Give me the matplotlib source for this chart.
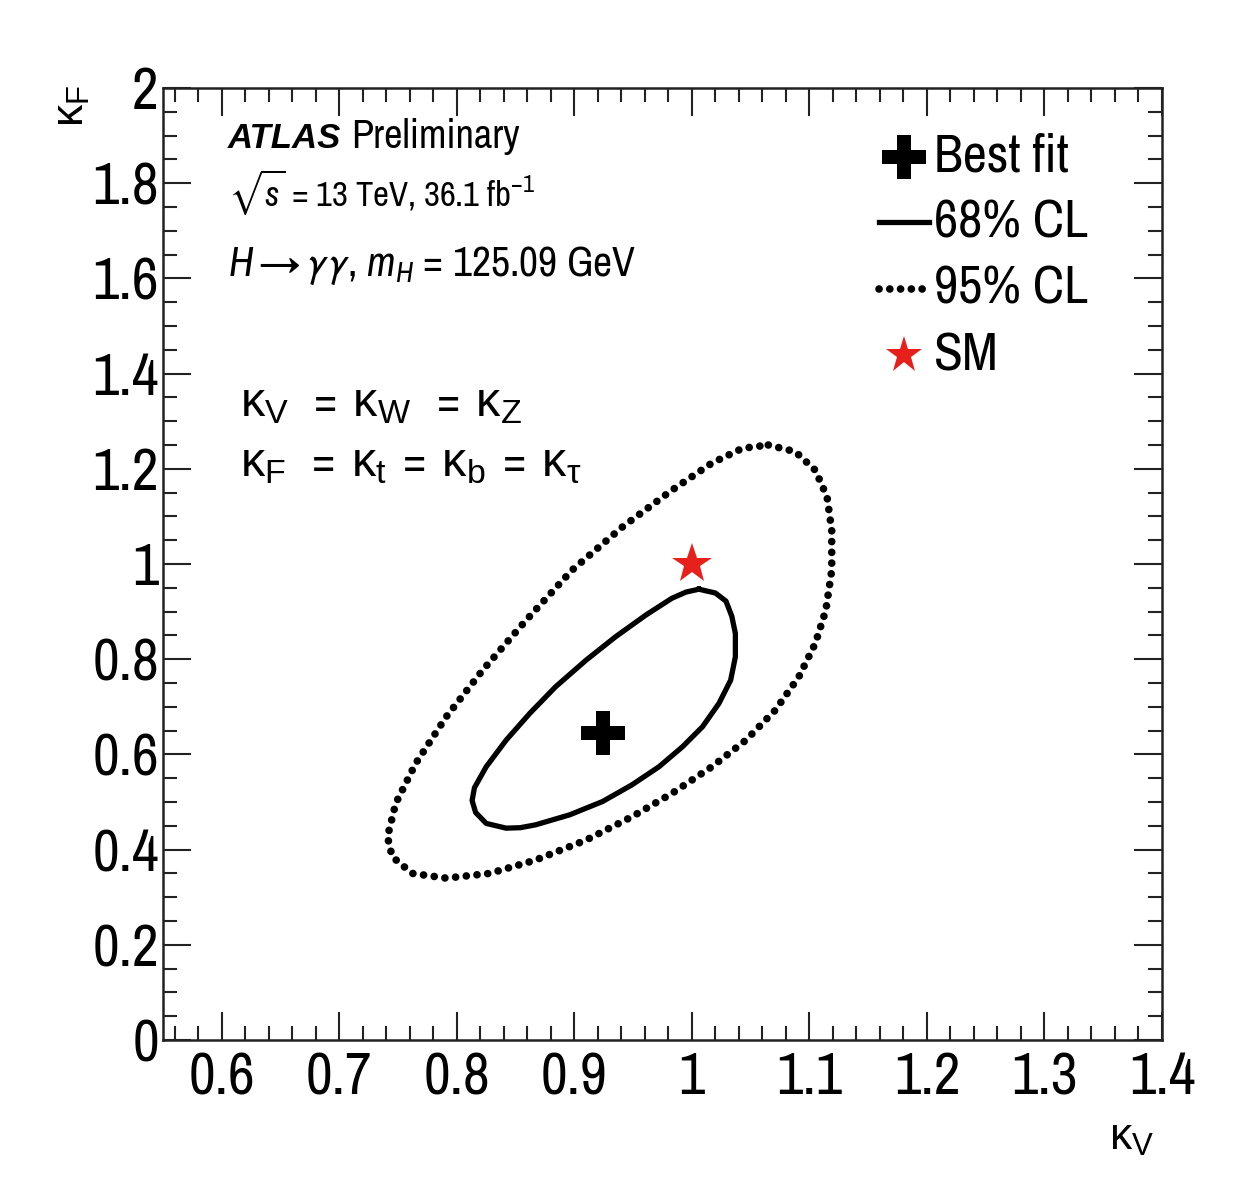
import numpy as np
import matplotlib
matplotlib.use("Agg")
import matplotlib.pyplot as plt
from matplotlib.ticker import MultipleLocator, FixedLocator

plt.rcParams['font.family'] = ['Archivo Narrow', 'Liberation Sans', 'DejaVu Sans']
plt.rcParams['mathtext.fontset'] = 'custom'
plt.rcParams['mathtext.rm'] = 'Archivo Narrow'
plt.rcParams['mathtext.it'] = 'Archivo Narrow:italic'
plt.rcParams['mathtext.sf'] = 'Liberation Sans'
plt.rcParams['mathtext.fallback'] = 'stixsans'

# Best-fit point and Standard Model expectation
best_fit = (0.924, 0.645)
sm_point = (1.0, 1.0)

# 68% CL contour (kappa_V, kappa_F)
cl68_kv = [1.006, 1.020, 1.029, 1.034, 1.037, 1.037, 1.033, 1.023, 1.009, 0.992,
           0.972, 0.949, 0.924, 0.896, 0.867, 0.854, 0.842, 0.825, 0.816, 0.813,
           0.815, 0.825, 0.842, 0.862, 0.884, 0.910, 0.935, 0.961, 0.983, 0.995]
cl68_kf = [0.947, 0.939, 0.922, 0.890, 0.854, 0.805, 0.756, 0.707, 0.658, 0.616,
           0.574, 0.536, 0.501, 0.473, 0.452, 0.446, 0.445, 0.455, 0.478, 0.503,
           0.530, 0.574, 0.630, 0.686, 0.742, 0.798, 0.847, 0.893, 0.928, 0.941]

# 95% CL contour (kappa_V, kappa_F)
cl95_kv = [1.065, 1.088, 1.105, 1.115, 1.119, 1.119, 1.114, 1.105, 1.091, 1.071,
           1.046, 1.017, 0.983, 0.949, 0.910, 0.867, 0.828, 0.791, 0.762, 0.745,
           0.741, 0.748, 0.765, 0.791, 0.822, 0.859, 0.898, 0.941, 0.983, 1.017,
           1.043]
cl95_kf = [1.250, 1.236, 1.197, 1.141, 1.071, 0.987, 0.903, 0.833, 0.763, 0.693,
           0.630, 0.574, 0.518, 0.469, 0.420, 0.378, 0.350, 0.340, 0.350, 0.385,
           0.427, 0.497, 0.581, 0.679, 0.777, 0.882, 0.987, 1.078, 1.155, 1.212,
           1.243]

x_ticks = [0.6, 0.7, 0.8, 0.9, 1.0, 1.1, 1.2, 1.3, 1.4]
x_tick_labels = ["0.6", "0.7", "0.8", "0.9", "1", "1.1", "1.2", "1.3", "1.4"]
y_ticks = [0, 0.2, 0.4, 0.6, 0.8, 1.0, 1.2, 1.4, 1.6, 1.8, 2.0]
y_tick_labels = ["0", "0.2", "0.4", "0.6", "0.8", "1", "1.2", "1.4", "1.6", "1.8", "2"]

fig = plt.figure(figsize=(12.5, 11.81), dpi=100)
ax = fig.add_axes([0.1304, 0.1194, 0.7992, 0.8061])
ax.set_xlim(0.55, 1.4)
ax.set_ylim(0.0, 2.0)

DOTS = (0, (0.01, 1.4))

# contours (closed)
ax.plot(cl68_kv + cl68_kv[:1], cl68_kf + cl68_kf[:1], color='black', lw=3.8,
        solid_joinstyle='round')
ax.plot(cl95_kv + cl95_kv[:1], cl95_kf + cl95_kf[:1], color='black', lw=5.5,
        linestyle=DOTS, dash_capstyle='round')

ax.plot(*best_fit, marker='P', color='black', markersize=32, markeredgewidth=0)
ax.plot(*sm_point, marker='*', color='#e8201c', markersize=30, markeredgewidth=0)

# ticks in ROOT style
ax.xaxis.set_major_locator(FixedLocator(x_ticks))
ax.set_xticklabels(x_tick_labels)
ax.xaxis.set_minor_locator(MultipleLocator(0.02))
ax.yaxis.set_major_locator(FixedLocator(y_ticks))
ax.set_yticklabels(y_tick_labels)
ax.yaxis.set_minor_locator(MultipleLocator(0.05))
ax.tick_params(which='both', direction='in', top=True, right=True, width=1.5,
               colors='#222222', labelcolor='black')
ax.tick_params(which='major', length=20, labelsize=42)
ax.tick_params(which='minor', length=10)
ax.tick_params(axis='x', which='major', pad=8)
ax.tick_params(axis='y', which='major', pad=3)
for s in ax.spines.values():
    s.set_linewidth(1.8)
    s.set_color('#222222')

# axis titles
fig.text(0.905, 0.036, r'$\mathsf{\kappa}_{\mathsf{V}}$', fontsize=32, ha='center',
         va='center')
fig.text(0.058, 0.91, r'$\mathsf{\kappa}_{\mathsf{F}}$', fontsize=32, ha='center',
         va='center', rotation=90)

# labels
atlas = ax.text(0.065, 0.937, 'ATLAS', transform=ax.transAxes, fontsize=25,
                fontweight='bold', fontstyle='italic', va='baseline',
                family=['Liberation Sans'])
fig.canvas.draw()
bb = atlas.get_window_extent().transformed(ax.transAxes.inverted())
ax.text(bb.x1 + 0.01, 0.937, 'Preliminary', transform=ax.transAxes, fontsize=29,
        va='baseline')
ax.text(0.065, 0.876, r'$\sqrt{s}$ = 13 TeV, 36.1 fb$^{-1}$',
        transform=ax.transAxes, fontsize=25, va='baseline')
ax.text(0.065, 0.803, r'$H \rightarrow \gamma\gamma$, $m_{H}$ = 125.09 GeV',
        transform=ax.transAxes, fontsize=30, va='baseline')
ax.text(0.077, 0.655,
        r'$\mathsf{\kappa}_{\mathsf{V}}\;\;=\;\mathsf{\kappa}_{\mathsf{W}}\;\;=\;'
        r'\mathsf{\kappa}_{\mathsf{Z}}$',
        transform=ax.transAxes, fontsize=35, va='baseline')
ax.text(0.077, 0.592,
        r'$\mathsf{\kappa}_{\mathsf{F}}\;\;=\;\mathsf{\kappa}_{\mathsf{t}}\;=\;'
        r'\mathsf{\kappa}_{\mathsf{b}}\;=\;\mathsf{\kappa}_{\mathsf{\tau}}$',
        transform=ax.transAxes, fontsize=35, va='baseline')

# legend drawn by hand in axes coordinates
lx, tx = 0.742, 0.772
rows = [0.928, 0.859, 0.789, 0.719]
ax.plot([lx], [rows[0]], transform=ax.transAxes, marker='P', color='black',
        markersize=32, markeredgewidth=0)
ax.plot([lx - 0.025, lx + 0.025], [rows[1], rows[1]], transform=ax.transAxes,
        color='black', lw=3.8)
ax.plot([lx - 0.025, lx + 0.025], [rows[2], rows[2]], transform=ax.transAxes,
        color='black', lw=5.5, linestyle=DOTS, dash_capstyle='round')
ax.plot([lx], [rows[3]], transform=ax.transAxes, marker='*', color='#e8201c',
        markersize=28, markeredgewidth=0)
for r, t in zip(rows, ['Best fit', '68% CL', '95% CL', 'SM']):
    ax.text(tx, r, t, transform=ax.transAxes, fontsize=38, va='center')

fig.savefig('out.png', dpi=100, facecolor='white')
